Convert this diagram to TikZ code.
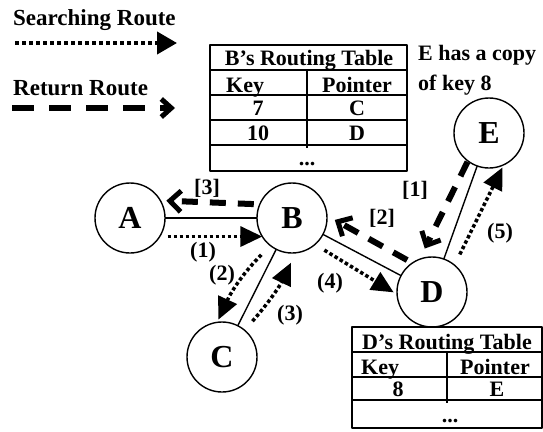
\documentclass[tikz,border=0pt]{standalone}
\usepackage{fontspec}
\setmainfont{Liberation Serif}
\usetikzlibrary{arrows.meta}
\tikzset{
  peer/.style={circle,draw,line width=1.4pt,minimum size=70pt,inner sep=0pt,outer sep=0pt,font=\fontsize{32}{32}\selectfont\bfseries},
  search/.style={line width=3.5pt,dash pattern=on 3.5pt off 2.5pt,-{Triangle[length=22pt,width=20pt]}},
  back/.style={line width=6pt,dash pattern=on 16pt off 12pt,-{Straight Barb[length=11pt,width=21pt,line width=5pt]}},
  lbl/.style={inner sep=0pt,font=\fontsize{22}{22}\selectfont\bfseries},
  txt/.style={inner sep=0pt,font=\fontsize{23}{23}\selectfont\bfseries},
  cell/.style={inner sep=0pt,anchor=base,font=\fontsize{22}{22}\selectfont\bfseries},
  grid/.style={line width=2pt}
}
\begin{document}
\begin{tikzpicture}[x=1pt,y=-1pt,line join=round]
\useasboundingbox (0,0) rectangle (543,431);
% legend
\node[txt,anchor=base west] (stitle) at (13,25) {Searching Route};
\coordinate (s0) at (15,43);
\coordinate (s1) at (177,43);
\draw[line width=4pt,dash pattern=on 4pt off 3pt,-{Triangle[length=20pt,width=22pt]}] (s0) -- (s1);
\node[txt,anchor=base west] (rtitle) at (13,95) {Return Route};
\coordinate (r0) at (12,108);
\coordinate (r1) at (175,108);
\draw[line width=6pt,dash pattern=on 22pt off 15pt,-{Straight Barb[length=10pt,width=18pt,line width=5pt]}] (r0) -- (r1);
\node[txt,anchor=base west,font=\fontsize{22}{22}\selectfont\bfseries] (note1) at (418,60) {E has a copy};
\node[txt,anchor=base west,font=\fontsize{22}{22}\selectfont\bfseries] (note2) at (418,90) {of key 8};

% peers
\node[peer] (A) at (130,218) {A};
\node[peer] (B) at (292,218) {B};
\node[peer] (C) at (222,357) {C};
\node[peer] (D) at (432,292) {D};
\node[peer] (E) at (489,133) {E};
\draw[line width=1.4pt] (A) -- (B);
\draw[line width=1.4pt] (B) -- (C);
\draw[line width=1.4pt] (B) -- (D);
\draw[line width=1.4pt] (D) -- (E);

% searching route
\draw[search,shorten <=8pt] (A.-32) -- (B.-148);
\draw[search,shorten <=13pt,shorten >=3pt] (B.232) to[bend right=10] (C.98);
\draw[search,shorten <=12pt,shorten >=11pt] (C.50) to[bend right=8] (B.-84);
\draw[search,shorten <=11pt,shorten >=4pt] (B.-49) -- (D.184);
\draw[search,shorten <=12pt,shorten >=3pt] (D.50) -- (E.-65);
\node[lbl] (n1) at (203,252) {(1)};
\node[lbl] (n2) at (222,275) {(2)};
\node[lbl] (n3) at (290,315) {(3)};
\node[lbl] (n4) at (330,283) {(4)};
\node[lbl] (n5) at (500,233) {(5)};

% return route
\draw[back,shorten <=1pt,shorten >=12pt] (E.233) -- (D.111);
\draw[back,shorten <=6pt,shorten >=9pt] (D.124) -- (B.4);
\draw[back,shorten <=6pt,shorten >=6pt] (B.157) -- (A.30);
\node[lbl] (m1) at (415,190) {[1]};
\node[lbl] (m2) at (382,218) {[2]};
\node[lbl] (m3) at (207,188) {[3]};

% B's table
\draw[grid] (210,45) rectangle (407,171);
\foreach \y in {70,95,120,145} \draw[grid] (210,\y) -- (407,\y);
\draw[grid] (307,70) -- (307,148);
\node[cell] (bt) at (309,65) {B’s Routing Table};
\node[cell,anchor=base west] (bk) at (226,92) {Key};
\node[cell] (bp) at (357,92) {Pointer};
\node[cell] (b7) at (258,115) {7};
\node[cell] (bc) at (357,115) {C};
\node[cell] (b10) at (258,140) {10};
\node[cell] (bd) at (357,140) {D};
\node[cell] (bx) at (307,165) {...};

% D's table
\draw[grid] (352,327) rectangle (542,428);
\foreach \y in {352,377,400} \draw[grid] (352,\y) -- (542,\y);
\draw[grid] (447,352) -- (447,403);
\node[cell] (dt) at (447,349) {D’s Routing Table};
\node[cell,anchor=base west] (dk) at (361,374) {Key};
\node[cell] (dp) at (495,374) {Pointer};
\node[cell] (d8) at (398,396) {8};
\node[cell] (de) at (497,396) {E};
\node[cell] (dx) at (450,422) {...};
\end{tikzpicture}
\end{document}
